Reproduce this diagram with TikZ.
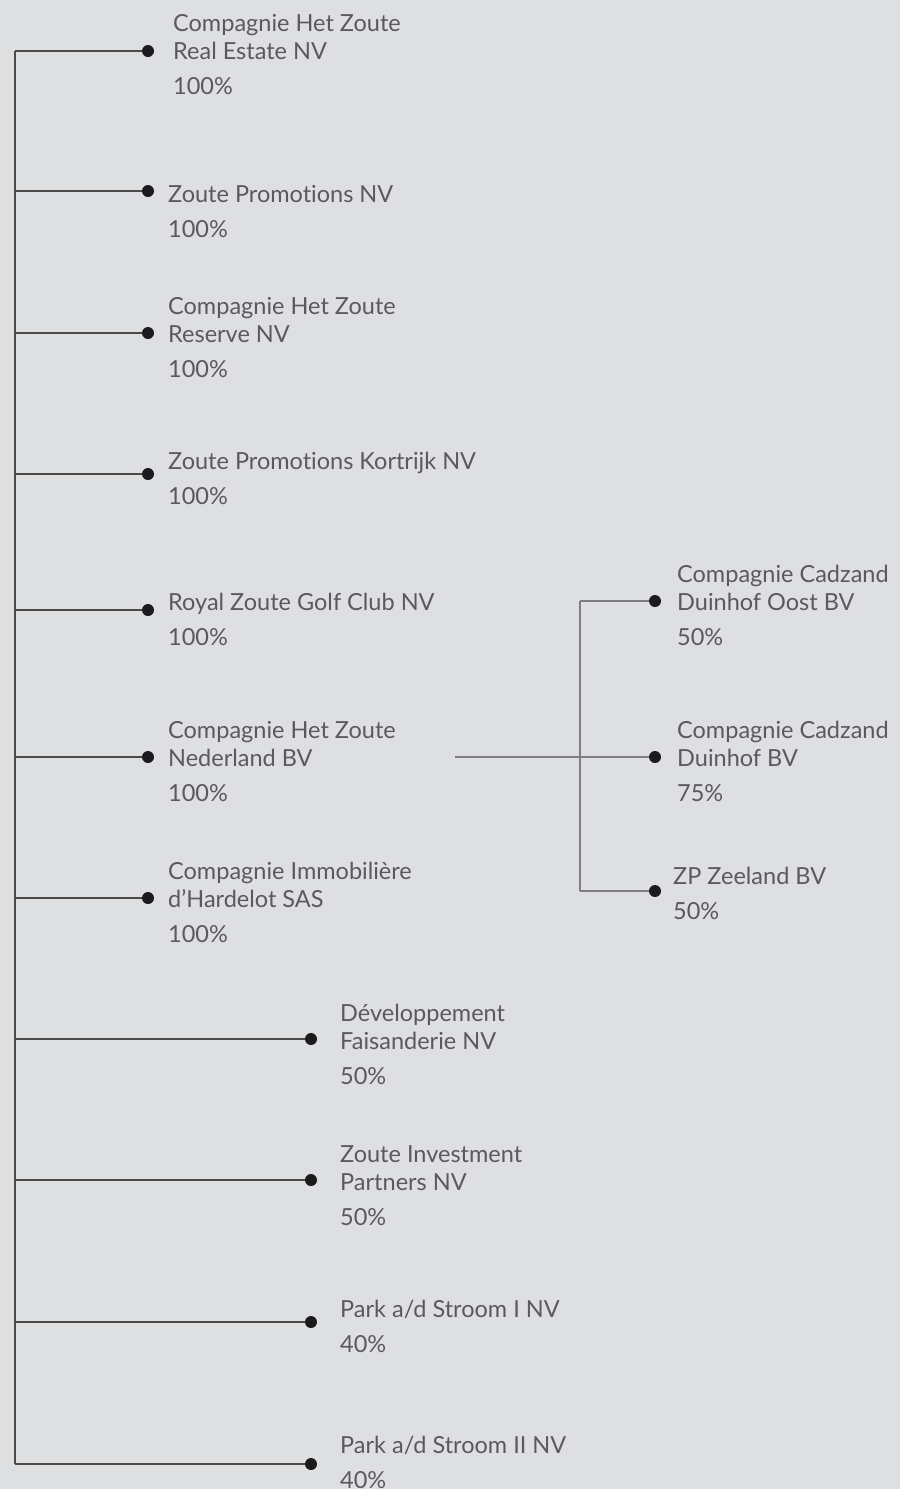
\documentclass[tikz,border=0pt]{standalone}
\usepackage{fontspec}
\setmainfont{Lato}[Ligatures={NoCommon}]
\usetikzlibrary{positioning}

\definecolor{bggray}{HTML}{DEDFE1}
\definecolor{txtgray}{HTML}{5A5A5C}
\definecolor{linegray}{HTML}{4A4A4A}
\definecolor{sublinegray}{HTML}{7E7E80}
\definecolor{dotblack}{HTML}{1C1A1C}

\tikzset{
  dot/.style={circle,fill=dotblack,inner sep=0pt,minimum size=12pt},
  entry/.style={anchor=base west,align=left,inner sep=0pt,text=txtgray,
    font=\fontsize{23.5}{28}\selectfont},
  link/.style={draw=linegray,line width=1.3pt},
  sublink/.style={draw=sublinegray,line width=1.3pt}
}

\begin{document}
\begin{tikzpicture}[x=1pt,y=-1pt]
  \fill[bggray] (0,0) rectangle (900,1489);
  \useasboundingbox (0,0) rectangle (900,1489);

  % main trunk
  \coordinate (trunktop) at (15,51);
  \coordinate (trunkbot) at (15,1464);
  \draw[link] (trunktop) -- (trunkbot);

  \foreach \n/\dx/\dy/\tx/\ty/\txt in {
    re/148/51/173/94/{Compagnie Het Zoute\\Real Estate NV\\[7pt]100\%},
    zp/148/191/168/237/{Zoute Promotions NV\\[7pt]100\%},
    rs/148/333/168/377/{Compagnie Het Zoute\\Reserve NV\\[7pt]100\%},
    kk/148/474/168/504/{Zoute Promotions Kortrijk NV\\[7pt]100\%},
    gc/148/610/168/645/{Royal Zoute Golf Club NV\\[7pt]100\%},
    nl/148/757/168/801/{Compagnie Het Zoute\\Nederland BV\\[7pt]100\%},
    ha/148/898/168/942/{Compagnie Immobilière\\d’Hardelot SAS\\[7pt]100\%},
    fa/311/1039/340/1084/{Développement\\Faisanderie NV\\[7pt]50\%},
    ip/311/1180/340/1225/{Zoute Investment\\Partners NV\\[7pt]50\%},
    sa/311/1322/340/1352/{Park a/d Stroom I NV\\[7pt]40\%},
    sb/311/1464/340/1488/{Park a/d Stroom II NV\\[7pt]40\%}} {
    \node[dot] (d\n) at (\dx,\dy) {};
    \node[entry] (t\n) at (\tx,\ty) {\txt};
    \draw[link] (d\n -| trunktop) -- (d\n);
  }

  % Nederland BV holdings
  \coordinate (subin) at (455,757);
  \coordinate (subjoint) at (580,757);
  \foreach \n/\dx/\dy/\tx/\ty/\txt in {
    co/655/601/677/645/{Compagnie Cadzand\\Duinhof Oost BV\\[7pt]50\%},
    cd/655/757/677/801/{Compagnie Cadzand\\Duinhof BV\\[7pt]75\%},
    ze/655/891/673/919/{ZP Zeeland BV\\[7pt]50\%}} {
    \node[dot] (d\n) at (\dx,\dy) {};
    \node[entry] (t\n) at (\tx,\ty) {\txt};
    \draw[sublink] (d\n -| subjoint) -- (d\n);
  }
  \draw[sublink] (subin) -- (subjoint);
  \draw[sublink] (dco -| subjoint) -- (dze -| subjoint);
\end{tikzpicture}
\end{document}
